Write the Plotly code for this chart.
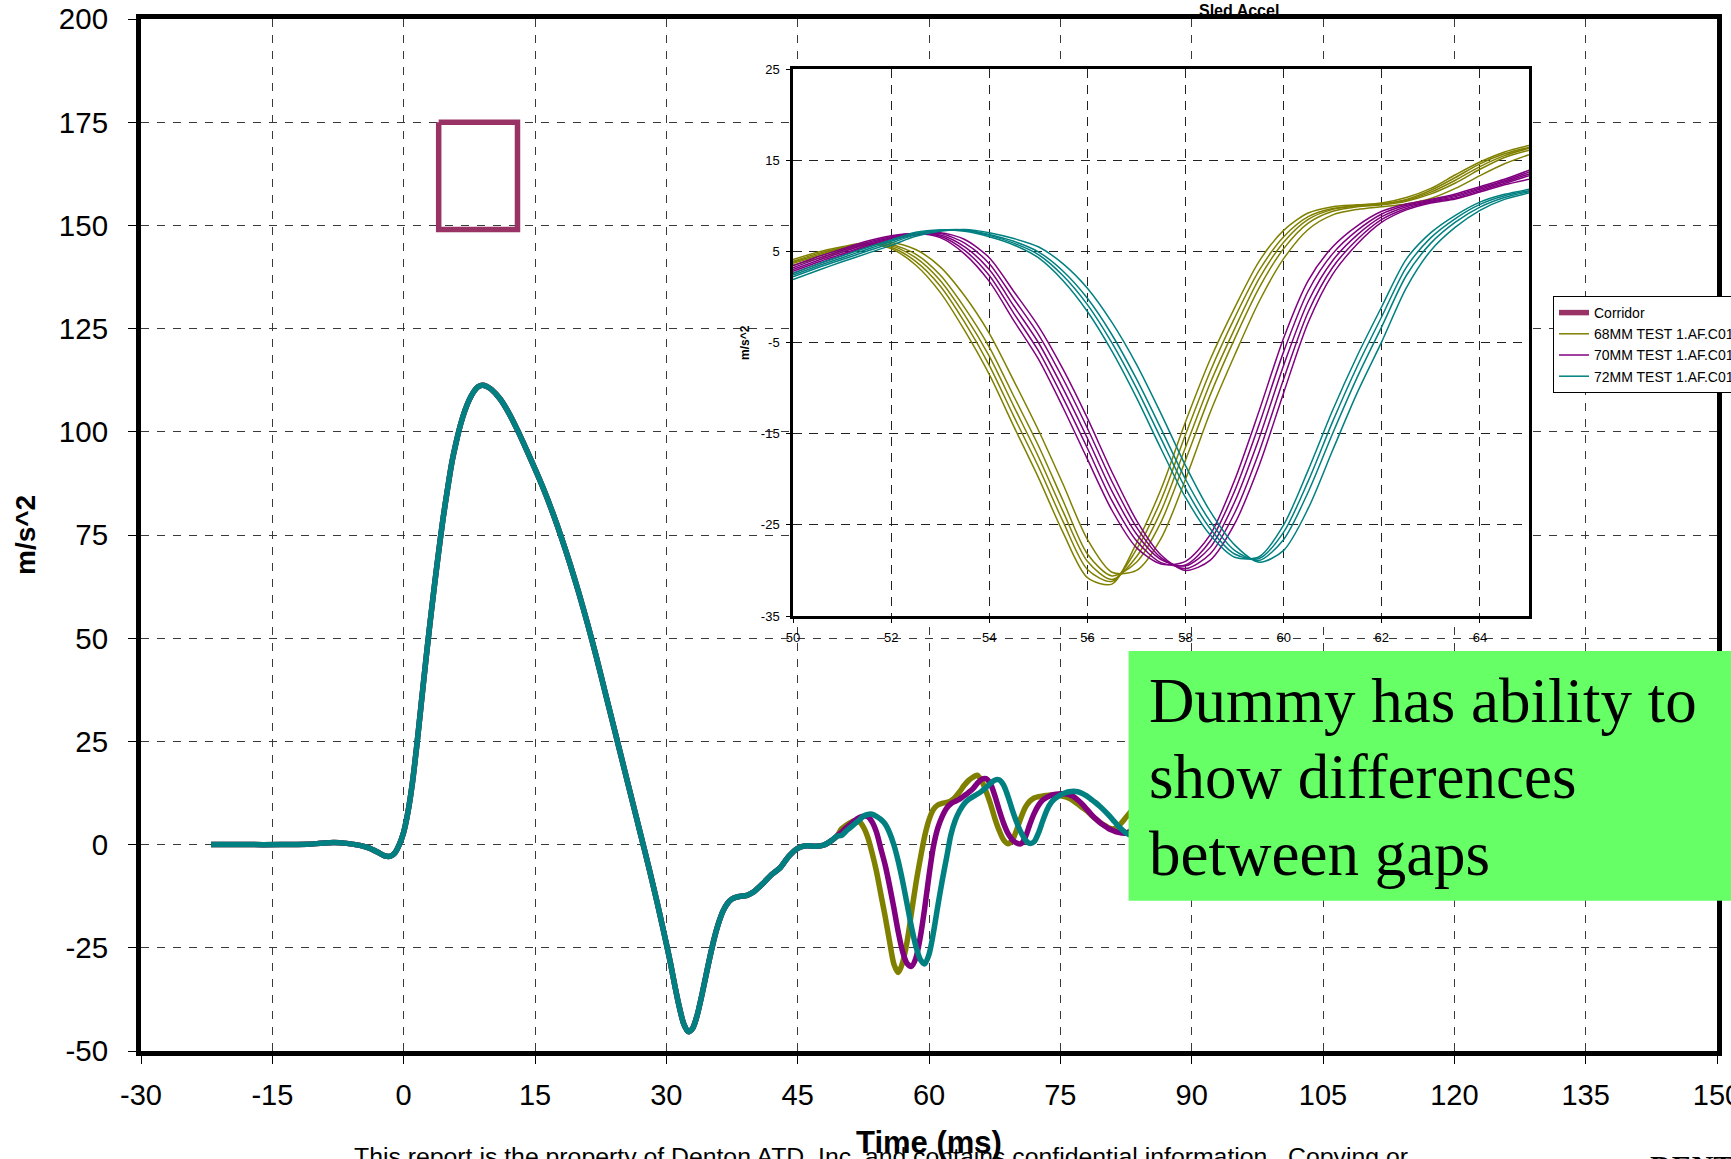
import plotly.graph_objects as go

# ---------------- data ----------------
t_common = [-22, -18, -14, -11, -9.5, -8, -6.5, -5, -4, -3,
            -2.2, -1.5, -1, -0.5, 0, 0.5, 1, 1.5, 2, 2.5,
            3, 3.5, 4, 4.5, 5, 5.5, 6, 6.5, 7, 7.5,
            8, 8.5, 9, 9.5, 10, 11, 12, 13, 14, 15,
            16, 17, 18, 19, 20, 21, 22, 23, 24, 25,
            26, 27, 28, 29, 30, 30.5, 31, 31.5, 32, 32.5,
            33, 33.5, 34, 34.5, 35, 35.5, 36, 36.5, 37, 37.5,
            38, 38.5, 39, 39.5, 40, 41, 42, 43, 44, 45,
            46, 47, 48, 49, 49.5]
acc_common = [0, 0, 0, 0.1, 0.3, 0.5, 0.3, -0.2, -0.8, -1.8,
              -2.7, -2.8, -2.0, 0.0, 3.0, 8.0, 15.0, 24.0, 34.0, 44.0,
              53.5, 62.5, 71.0, 79.0, 86.0, 92.5, 97.5, 101.8, 105.2, 107.8,
              109.7, 110.9, 111.3, 111.0, 110.3, 108.0, 104.6, 100.4, 95.8, 91.0,
              86.0, 80.5, 74.5, 68.0, 61.0, 53.5, 45.5, 37.0, 28.5, 20.0,
              11.5, 3.0, -5.5, -14.5, -24.0, -29.0, -34.5, -39.5, -43.5, -45.3,
              -44.5, -41.5, -37.0, -32.0, -27.0, -22.5, -18.8, -16.0, -14.2, -13.2,
              -12.7, -12.5, -12.4, -12.0, -11.4, -9.5, -7.3, -5.6, -2.8, -0.9,
              -0.3, -0.4, -0.1, 1.2, 2.1]

t_inset = [50, 50.5, 51, 51.5, 52, 52.5, 53, 53.5, 54, 54.5,
           55, 55.5, 56, 56.5, 57, 57.5, 58, 58.5, 59, 59.5,
           60, 60.5, 61, 61.5, 62, 62.5, 63, 63.5, 64, 64.5,
           65]

olive_tests = [
    [4.1, 4.9, 5.5, 5.9, 5.3, 3.5, 0.5, -3.7, -8.5, -14.2,
     -19.8, -25.8, -30.8, -31.5, -27.0, -21.1, -13.7, -6.9, -1.2, 3.9,
     7.3, 9.2, 9.9, 10.1, 10.3, 10.9, 11.9, 13.4, 14.8, 15.9, 16.6],
    [3.9, 4.75, 5.4, 5.85, 5.45, 3.9, 1.2, -2.8, -7.5, -13.1,
     -18.6, -24.6, -29.9, -31.2, -27.7, -22.3, -15.1, -8.2, -2.3, 2.9,
     6.6, 8.8, 9.7, 10.0, 10.2, 10.7, 11.7, 13.1, 14.6, 15.7, 16.4],
    [3.8, 4.6, 5.3, 5.8, 5.6, 4.3, 1.8, -2.0, -6.5, -12.0,
     -17.5, -23.5, -29.0, -31.0, -28.5, -23.5, -16.5, -9.5, -3.5, 2.0,
     6.0, 8.5, 9.6, 10.0, 10.2, 10.6, 11.5, 12.8, 14.3, 15.5, 16.3],
    [3.7, 4.45, 5.2, 5.75, 5.75, 4.7, 2.4, -1.2, -5.5, -10.9,
     -16.3, -22.3, -28.2, -30.6, -29.1, -24.7, -17.9, -10.8, -4.6, 1.0,
     5.3, 8.1, 9.4, 9.9, 10.1, 10.5, 11.3, 12.5, 14.0, 15.3, 16.1],
    [3.5, 4.2, 5.0, 5.7, 5.95, 5.2, 3.3, 0.1, -4.0, -9.2,
     -14.6, -20.5, -26.6, -30.2, -30.0, -26.5, -20.0, -12.7, -6.4, -0.5,
     4.2, 7.4, 9.0, 9.6, 9.9, 10.2, 10.8, 11.9, 13.3, 14.6, 15.6],
]
purple_tests = [
    [3.4, 4.4, 5.25, 6.1, 6.7, 6.95, 6.5, 4.7, 1.7, -2.6,
     -6.8, -12.1, -17.8, -23.4, -27.5, -29.3, -29.0, -26.1, -20.1, -12.5,
     -4.5, 1.8, 5.5, 7.8, 9.4, 10.2, 10.7, 11.3, 12.1, 12.9, 13.9],
    [3.2, 4.2, 5.1, 5.95, 6.6, 6.95, 6.65, 5.1, 2.35, -1.8,
     -5.9, -11.05, -16.6, -22.35, -26.75, -29.15, -29.4, -26.8, -21.3, -14.0,
     -6.0, 0.65, 4.75, 7.3, 9.1, 10.05, 10.6, 11.15, 11.95, 12.75, 13.7],
    [3.0, 4.0, 4.9, 5.8, 6.5, 6.9, 6.8, 5.5, 3.0, -1.0,
     -5.0, -10.0, -15.5, -21.3, -26.0, -28.8, -29.5, -27.5, -22.5, -15.5,
     -7.5, -0.5, 4.0, 6.8, 8.8, 9.9, 10.5, 11.0, 11.8, 12.6, 13.5],
    [2.8, 3.8, 4.7, 5.65, 6.4, 6.85, 6.95, 5.9, 3.65, -0.2,
     -4.1, -8.95, -14.4, -20.25, -25.25, -28.6, -29.8, -28.2, -23.7, -17.0,
     -9.0, -1.65, 3.25, 6.3, 8.5, 9.7, 10.4, 10.85, 11.65, 12.45, 13.3],
    [2.6, 3.6, 4.55, 5.5, 6.3, 6.8, 7.05, 6.3, 4.3, 0.6,
     -3.2, -7.9, -13.3, -19.2, -24.5, -28.3, -30.0, -28.9, -24.9, -18.5,
     -10.5, -2.8, 2.5, 5.8, 8.2, 9.55, 10.3, 10.75, 11.5, 12.3, 12.9],
]
teal_tests = [
    [2.6, 3.6, 4.5, 5.4, 6.25, 7.1, 7.35, 7.2, 6.6, 5.7,
     4.3, 1.8, -1.6, -5.95, -11.05, -16.65, -22.0, -26.1, -28.55, -28.5,
     -25.0, -19.0, -12.4, -6.45, -1.05, 4.15, 7.05, 8.95, 10.4, 11.25, 11.8],
    [2.4, 3.4, 4.3, 5.2, 6.1, 6.95, 7.3, 7.3, 6.75, 5.9,
     4.65, 2.35, -0.85, -5.05, -10.0, -15.55, -21.0, -25.4, -28.2, -28.7,
     -25.8, -20.2, -13.65, -7.6, -2.15, 3.25, 6.5, 8.6, 10.15, 11.1, 11.65],
    [2.2, 3.2, 4.1, 5.0, 5.9, 6.85, 7.3, 7.35, 6.85, 6.1,
     4.95, 2.85, -0.15, -4.15, -9.0, -14.45, -20.0, -24.6, -27.8, -28.9,
     -26.6, -21.4, -14.95, -8.8, -3.25, 2.35, 5.9, 8.2, 9.85, 10.9, 11.55],
    [1.9, 2.9, 3.85, 4.75, 5.65, 6.65, 7.2, 7.4, 7.05, 6.4,
     5.5, 3.65, 0.95, -2.8, -7.4, -12.8, -18.5, -23.5, -27.2, -29.1,
     -27.8, -23.2, -16.8, -10.5, -4.9, 1.0, 5.1, 7.65, 9.5, 10.7, 11.4],
]

t_tail = [65.5, 66, 66.5, 67, 67.5, 68, 68.5, 69, 69.5, 70,
          70.5, 71, 71.5, 72, 72.5, 73, 73.5, 74, 74.5, 75,
          75.5, 76, 76.5, 77, 77.5, 78, 78.5, 79, 79.5, 80,
          80.5, 81, 81.5, 82, 82.5, 83, 83.5, 84,
          86, 88, 90, 95, 100]
olive_tail = [16.8, 15.5, 13.0, 10.0, 6.5, 3.5, 1.2, 0.2, 1.0, 3.5,
              6.5, 9.0, 10.5, 11.3, 11.6, 11.8, 11.9, 12.0, 12.0, 11.9,
              11.6, 11.2, 10.6, 9.8, 9.0, 8.2, 7.2, 6.3, 5.4, 4.7,
              4.1, 3.8, 4.2, 5.3, 6.6, 7.9, 9.0, 9.8,
              10.0, 8.0, 6.0, 3.0, 2.0]
purple_tail = [14.8, 15.8, 16.0, 14.8, 12.0, 8.5, 5.3, 2.8, 1.2, 0.4,
               0.2, 1.8, 4.8, 7.5, 9.5, 10.8, 11.5, 12.0, 12.2, 12.3,
               12.3, 12.1, 11.6, 10.8, 9.8, 8.6, 7.4, 6.3, 5.4, 4.6,
               3.9, 3.4, 3.0, 2.8, 2.8, 3.3, 4.3, 5.5,
               9.0, 8.0, 6.0, 3.0, 2.0]
teal_tail = [12.2, 12.9, 13.8, 14.8, 15.6, 15.7, 14.5, 11.8, 8.5, 5.5,
             3.0, 1.2, 0.3, 0.7, 2.8, 5.8, 8.5, 10.3, 11.3, 12.0,
             12.5, 12.8, 12.9, 12.8, 12.4, 11.8, 11.0, 10.2, 9.3, 8.3,
             7.2, 6.0, 4.8, 3.7, 2.8, 2.3, 2.5, 3.3,
             7.0, 8.0, 6.0, 3.0, 2.0]

corridor_x = [4, 13, 13, 4, 4]
corridor_y = [175, 175, 149, 149, 175]

series_names = ["68MM TEST 1.AF.C01", "70MM TEST 1.AF.C01", "72MM TEST 1.AF.C01"]
series_colors = ["#808000", "#800080", "#008080"]

x_ticks_main = [-30, -15, 0, 15, 30, 45, 60, 75, 90, 105, 120, 135, 150]
y_ticks_main = [-50, -25, 0, 25, 50, 75, 100, 125, 150, 175, 200]
x_ticks_inset = [50, 52, 54, 56, 58, 60, 62, 64]
y_ticks_inset = [-35, -25, -15, -5, 5, 15, 25]

# ---------------- layout geometry ----------------
W_FIG, H_FIG = 1731, 1159
L, R, T, B = 141, 14, 19, 108
PW = W_FIG - L - R
PH = H_FIG - T - B


def fx(p):
    return (p - L) / PW


def fy(p):
    return (H_FIG - B - p) / PH


def labels(vals):
    return [str(v) for v in vals]


SANS = "Liberation Sans, Arial, sans-serif"
SERIF = "Liberation Serif, Times New Roman, serif"
CORRIDOR = "#993366"

fig = go.Figure()

# main thick curves
tails = [olive_tail, purple_tail, teal_tail]
mids = [olive_tests[2], purple_tests[2], teal_tests[2]]
for i in range(3):
    fig.add_trace(go.Scatter(
        x=t_common + t_inset + t_tail,
        y=acc_common + mids[i] + tails[i],
        mode="lines",
        line=dict(color=series_colors[i], width=5.5, shape="spline", smoothing=0.8),
        showlegend=False, hoverinfo="skip", xaxis="x", yaxis="y"))

# corridor box
fig.add_trace(go.Scatter(
    x=corridor_x, y=corridor_y, mode="lines", name="Corridor",
    line=dict(color=CORRIDOR, width=5.5), legendrank=1,
    hoverinfo="skip", xaxis="x", yaxis="y"))

# inset thin curves
groups = [olive_tests, purple_tests, teal_tests]
for gi, tests in enumerate(groups):
    for k, vals in enumerate(tests):
        fig.add_trace(go.Scatter(
            x=t_inset, y=vals, mode="lines",
            name=series_names[gi],
            showlegend=(k == 0), legendrank=2 + gi,
            line=dict(color=series_colors[gi], width=1.5, shape="spline", smoothing=0.8),
            hoverinfo="skip", xaxis="x2", yaxis="y2"))

grid_main = dict(showgrid=True, gridcolor="#3a3a3a", gridwidth=1, griddash="8px,8px",
                 zeroline=False, showline=True, linecolor="black", linewidth=5,
                 mirror=True, ticks="outside", ticklen=8, tickwidth=1, tickcolor="black",
                 ticklabeloverflow="allow")
grid_inset = dict(showgrid=True, gridcolor="#222", gridwidth=1, griddash="9px,7px",
                  zeroline=False, showline=True, linecolor="black", linewidth=2.5,
                  mirror=True, ticks="outside", ticklen=4, tickwidth=1, tickcolor="black",
                  ticklabeloverflow="allow")

fig.update_layout(
    width=W_FIG, height=H_FIG,
    margin=dict(l=L, r=R, t=T, b=B, autoexpand=False),
    paper_bgcolor="white", plot_bgcolor="white",
    xaxis=dict(domain=[0, 1], range=[-30, 150], tickvals=x_ticks_main,
               ticktext=labels(x_ticks_main),
               tickfont=dict(family=SANS, size=29, color="black"),
               ticklabelstandoff=6, **grid_main),
    yaxis=dict(domain=[0, 1], range=[-50, 200], tickvals=y_ticks_main,
               ticktext=labels(y_ticks_main),
               tickfont=dict(family=SANS, size=29.5, color="black"),
               ticklabelstandoff=14, **grid_main),
    xaxis2=dict(domain=[fx(793), fx(1529)], anchor="y2", range=[50, 65],
                tickvals=x_ticks_inset, ticktext=labels(x_ticks_inset),
                tickfont=dict(family=SANS, size=13, color="black"),
                ticklabelstandoff=4, **grid_inset),
    yaxis2=dict(domain=[fy(616), fy(69)], anchor="x2", range=[-35, 25],
                tickvals=y_ticks_inset, ticktext=labels(y_ticks_inset),
                tickfont=dict(family=SANS, size=13, color="black"),
                ticklabelstandoff=4, **grid_inset),
    legend=dict(x=fx(1553), y=fy(296), xanchor="left", yanchor="top",
                xref="paper", yref="paper",
                bgcolor="white", bordercolor="black", borderwidth=1,
                font=dict(family=SANS, size=14, color="black"),
                itemwidth=30, tracegroupgap=0, traceorder="normal"),
    showlegend=True,
)

shapes = [
    dict(type="rect", xref="paper", yref="paper",
         x0=fx(1128.6), x1=fx(1745), y0=fy(900.7), y1=fy(651),
         fillcolor="#66FF66", line=dict(width=0), layer="above"),
]
fig.update_layout(shapes=shapes)

ann = []
# footer (drawn first so the axis title sits on top)
ann.append(dict(text="This report is the property of Denton ATD, Inc. and contains confidential information.  Copying or",
                xref="paper", yref="paper", x=fx(881), y=fy(1156), xanchor="center", yanchor="middle",
                showarrow=False, font=dict(family=SANS, size=24.8, color="black")))
ann.append(dict(text="<b>Time (ms)</b>", xref="paper", yref="paper", x=fx(929), y=fy(1142),
                xanchor="center", yanchor="middle", showarrow=False,
                font=dict(family=SANS, size=31, color="black")))
ann.append(dict(text="<b>m/s^2</b>", xref="paper", yref="paper", x=fx(25), y=fy(535),
                xanchor="center", yanchor="middle", textangle=-90, showarrow=False,
                font=dict(family=SANS, size=28, color="black")))
ann.append(dict(text="<b>Sled Accel</b>", xref="paper", yref="paper", x=fx(1239), y=fy(11),
                xanchor="center", yanchor="middle", showarrow=False,
                font=dict(family=SANS, size=16, color="black")))
ann.append(dict(text="<b>m/s^2</b>", xref="paper", yref="paper", x=fx(745), y=fy(343),
                xanchor="center", yanchor="middle", textangle=-90, showarrow=False,
                font=dict(family=SANS, size=12, color="black")))
for line, base in [("Dummy has ability to", 722), ("show differences", 798), ("between gaps", 875)]:
    ann.append(dict(text=line, xref="paper", yref="paper", x=fx(1147), y=fy(base - 21),
                    xanchor="left", yanchor="middle", showarrow=False,
                    font=dict(family=SERIF, size=63, color="black")))
ann.append(dict(text="<b>DENTON</b>", xref="paper", yref="paper", x=fx(1648), y=fy(1147),
                xanchor="left", yanchor="top", showarrow=False,
                font=dict(family=SERIF, size=30, color="black")))
fig.update_layout(annotations=ann)

fig.write_html("out.html",
               config={"displayModeBar": False},
               post_script="document.body.style.margin='0';document.body.style.overflow='hidden';")
